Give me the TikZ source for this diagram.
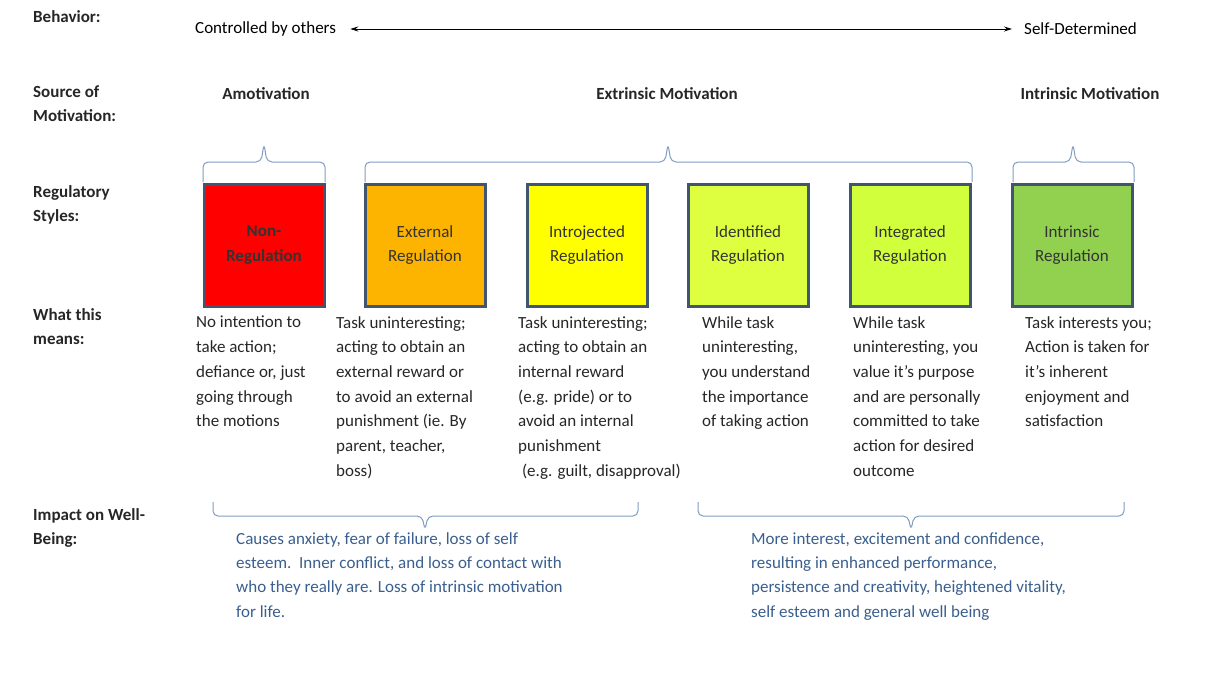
\documentclass[tikz,border=0pt]{standalone}
\usepackage{fontspec}
\setmainfont{Carlito}
\usetikzlibrary{arrows.meta}
\definecolor{bord}{HTML}{3F5570}
\definecolor{brc}{HTML}{7F9CC0}
\definecolor{blu}{HTML}{3A5F8E}
\definecolor{c1}{HTML}{FF0000}
\definecolor{c2}{HTML}{FCB400}
\definecolor{c3}{HTML}{FFFF00}
\definecolor{c4}{HTML}{DDFF40}
\definecolor{c5}{HTML}{D2FF3C}
\definecolor{c6}{HTML}{92D050}
\tikzset{
 lbl/.style={font=\fontsize{17}{24.5}\selectfont\bfseries, anchor=north west, inner sep=0pt, align=left, text=black!85},
 hdr/.style={font=\fontsize{17}{24.5}\selectfont\bfseries, inner sep=0pt, text=black!85},
 box/.style={draw=bord, line width=3pt, minimum width=120pt, minimum height=122pt, inner sep=0pt, align=center, font=\fontsize{17}{24.5}\selectfont, text=black!80},
 desc/.style={font=\fontsize{17}{24.7}\selectfont, anchor=north west, inner sep=0pt, align=left, text=black!85},
 bot/.style={font=\fontsize{17}{24.4}\selectfont, anchor=north west, inner sep=0pt, align=left, text=blu},
 brace/.style={draw=brc, line width=1pt, rounded corners=5pt}
}
\begin{document}
\begin{tikzpicture}[x=1pt,y=-1pt]
\useasboundingbox (0,0) rectangle (1227,677);
\node[lbl] (l1) at (33,10) {Behavior:};
\node[lbl] (l2) at (33,85) {Source of\\Motivation:};
\node[lbl] (l3) at (33,185) {Regulatory\\Styles:};
\node[lbl] (l4) at (33,308) {What this\\means:};
\node[lbl] (l5) at (33,508) {Impact on Well-\\Being:};

\node[font=\fontsize{17}{20}\selectfont, anchor=west, inner sep=0pt] (cb) at (195,29) {Controlled by others};
\node[font=\fontsize{17}{20}\selectfont, anchor=west, inner sep=0pt] (sd) at (1024,29) {Self-Determined};
\draw[{Stealth[length=8pt,width=5pt]}-{Stealth[length=8pt,width=5pt]}, line width=0.8pt] ([xshift=14pt]cb.east) -- ([xshift=-12pt]sd.west);

\node[hdr] (h1) at (266,94) {Amotivation};
\node[hdr] (h2) at (667,94) {Extrinsic Motivation};
\node[hdr] (h3) at (1090,94) {Intrinsic Motivation};

\node[box, fill=c1, font=\fontsize{17}{24.5}\selectfont\bfseries] (b1) at (264,245) {Non-\\Regulation};
\node[box, fill=c2] (b2) at (425,245) {External\\Regulation};
\node[box, fill=c3] (b3) at (587,245) {Introjected\\Regulation};
\node[box, fill=c4] (b4) at (748,245) {Identified\\Regulation};
\node[box, fill=c5] (b5) at (910,245) {Integrated\\Regulation};
\node[box, fill=c6] (b6) at (1072,245) {Intrinsic\\Regulation};

\draw[brace] (203,182) -- (203,162) -- (261,162) -- (264,144) -- (267,162) -- (325,162) -- (325,182);
\draw[brace] (365,182) -- (365,162) -- (665,162) -- (668,144) -- (671,162) -- (972,162) -- (972,182);
\draw[brace] (1013,182) -- (1013,162) -- (1070,162) -- (1073,144) -- (1076,162) -- (1134,162) -- (1134,182);

\node[desc] (d1) at (196,316) {No intention to\\take action;\\defiance or, just\\going through\\the motions};
\node[desc] (d2) at (336,316) {Task uninteresting;\\acting to obtain an\\external reward or\\to avoid an external\\punishment (ie. By\\parent, teacher,\\boss)};
\node[desc] (d3) at (518,316) {Task uninteresting;\\acting to obtain an\\internal reward\\(e.g. pride) or to\\avoid an internal\\punishment\\\ (e.g. guilt, disapproval)};
\node[desc] (d4) at (702,316) {While task\\uninteresting,\\you understand\\the importance\\of taking action};
\node[desc] (d5) at (853,316) {While task\\uninteresting, you\\value it’s purpose\\and are personally\\committed to take\\action for desired\\outcome};
\node[desc] (d6) at (1025,316) {Task interests you;\\Action is taken for\\it’s inherent\\enjoyment and\\satisfaction};

\draw[brace] (213,502) -- (213,516) -- (422,516) -- (425,530) -- (428,516) -- (638,516) -- (638,502);
\draw[brace] (698,502) -- (698,516) -- (908,516) -- (911,530) -- (914,516) -- (1124,516) -- (1124,502);

\node[bot] (t1) at (236,532) {Causes anxiety, fear of failure, loss of self\\esteem.\ \ Inner conflict, and loss of contact with\\who they really are. Loss of intrinsic motivation\\for life.};
\node[bot] (t2) at (751,532) {More interest, excitement and confidence,\\resulting in enhanced performance,\\persistence and creativity, heightened vitality,\\self esteem and general well being};
\end{tikzpicture}
\end{document}
